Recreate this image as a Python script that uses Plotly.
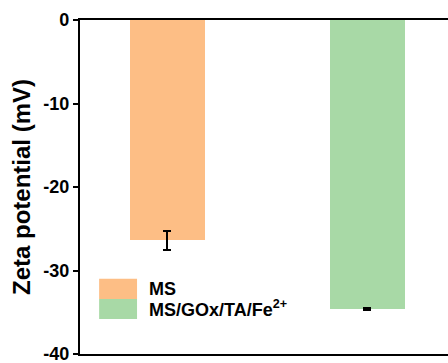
import plotly.graph_objects as go

# Zeta potential measurements (mV)
samples = ["MS", "MS/GOx/TA/Fe<sup>2+</sup>"]
zeta = [-26.4, -34.6]
zeta_err = [1.1, 0.15]
colors = ["#FDBE85", "#A8D9A6"]

y_ticks = [0, -10, -20, -30, -40]

font_family = "Liberation Sans, Arial, sans-serif"

fig = go.Figure()
for i, (name, val, err, col) in enumerate(zip(samples, zeta, zeta_err, colors)):
    fig.add_trace(go.Bar(
        x=[i], y=[val], name=name,
        marker=dict(color=col, line=dict(width=0)),
        width=0.375,
        error_y=dict(type="data", array=[err], color="black", thickness=2.2, width=4),
        showlegend=False,
    ))

# Legend drawn as swatches + labels
leg_y = [0.195, 0.135]
for i, (name, col) in enumerate(zip(samples, colors)):
    fig.add_shape(type="rect", xref="paper", yref="paper",
                  x0=0.052, x1=0.155, y0=leg_y[i] - 0.03, y1=leg_y[i] + 0.03,
                  fillcolor=col, line=dict(width=0))
    fig.add_annotation(xref="paper", yref="paper", x=0.183, y=leg_y[i],
                       text=f"<b>{name}</b>", showarrow=False, xanchor="left", yanchor="middle",
                       font=dict(family=font_family, size=18, color="black"))

fig.update_layout(
    width=448, height=363,
    margin=dict(l=80, r=0, t=20, b=9, autoexpand=False),
    paper_bgcolor="white", plot_bgcolor="white",
    bargap=0,
    font=dict(family=font_family, color="black"),
    xaxis=dict(range=[-0.4375, 1.405], showticklabels=False, ticks="",
               showline=True, linecolor="black", linewidth=2.2, mirror=True,
               showgrid=False, zeroline=False),
    yaxis=dict(range=[-40, 0], tickvals=y_ticks, ticktext=[f"<b>{v}</b>" for v in y_ticks],
               ticks="outside", ticklen=5, tickwidth=2, tickcolor="black",
               ticklabeloverflow="allow",
               showline=True, linecolor="black", linewidth=2.2,
               showgrid=False, zeroline=False,
               tickfont=dict(size=18, family=font_family),
               title=dict(text="<b>Zeta potential (mV)</b>", standoff=6,
                          font=dict(size=24, family=font_family))),
)

fig.write_html("out.html")
